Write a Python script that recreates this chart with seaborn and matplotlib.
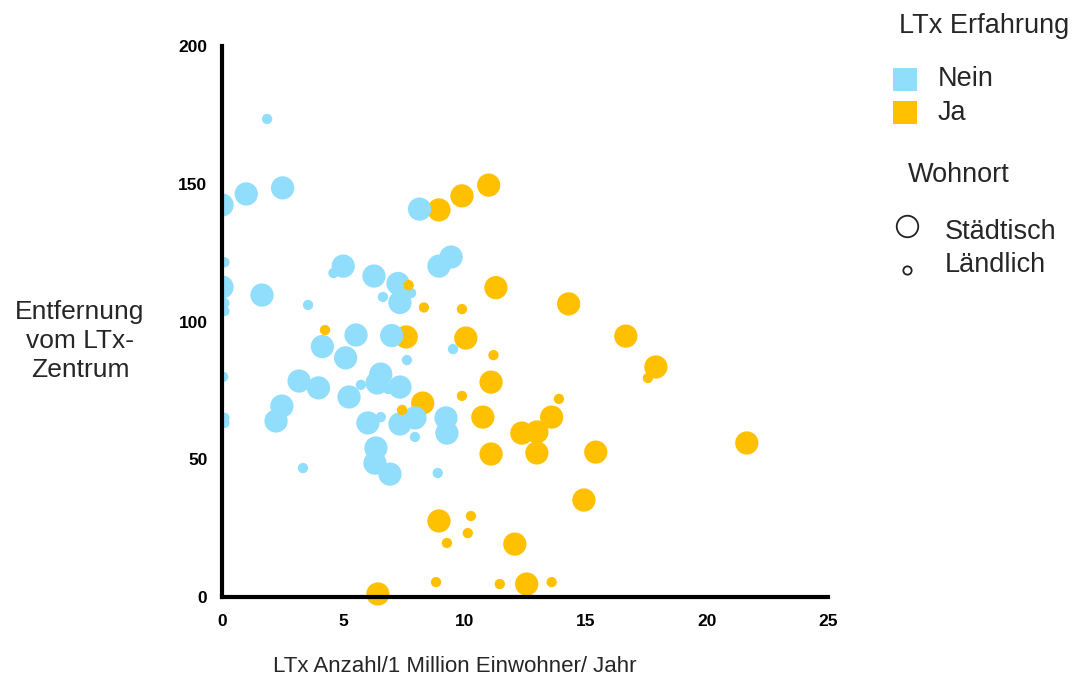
import matplotlib
matplotlib.use("Agg")
import matplotlib.pyplot as plt
import pandas as pd
import seaborn as sns
from matplotlib.patches import Rectangle
from matplotlib.lines import Line2D

# ---------------- data ----------------
# LTx experience "Ja", urban residence (Städtisch)
ja_stadt_x = [8.95, 9.9, 11.0, 11.3, 14.3, 7.6, 10.06, 16.66, 17.9, 11.1, 8.28, 10.76,
              13.6, 12.37, 12.99, 11.1, 12.99, 15.42, 21.65, 14.93, 8.95, 12.08, 12.57, 6.43]
ja_stadt_y = [140.5, 145.6, 149.5, 112.3, 106.4, 94.4, 94.0, 94.7, 83.5, 78.0, 70.4, 65.3,
              65.3, 59.5, 59.9, 51.9, 52.3, 52.6, 55.9, 35.2, 27.6, 19.2, 4.7, 1.1]

# LTx experience "Nein", urban residence
nein_stadt_x = [0.0, 1.0, 2.5, 8.15, 5.0, 8.95, 9.45, 0.0, 1.65, 6.27, 7.26, 7.34, 5.53,
                7.0, 4.14, 5.1, 6.55, 6.4, 7.34, 3.18, 3.98, 5.24, 2.47, 2.23, 6.02, 7.34,
                7.96, 9.24, 9.28, 6.35, 6.31, 6.93]
nein_stadt_y = [142.3, 146.3, 148.5, 140.8, 120.1, 120.1, 123.4, 112.5, 109.6, 116.5, 113.8,
                106.9, 95.1, 94.9, 90.9, 86.8, 80.9, 77.7, 76.2, 78.4, 75.9, 72.6, 69.3, 63.9,
                63.2, 62.8, 65.0, 65.0, 59.5, 54.1, 48.6, 44.6]

# LTx experience "Nein", rural residence (Ländlich)
nein_land_x = [0.1, 1.86, 0.1, 0.1, 4.6, 3.55, 6.64, 7.8, 0.05, 0.1, 0.1, 7.63, 9.53,
               5.73, 6.85, 6.55, 7.96, 3.34, 8.9]
nein_land_y = [121.5, 173.5, 106.7, 103.8, 117.6, 106.0, 108.9, 110.3, 79.9, 65.0, 63.2,
               86.0, 90.0, 77.0, 75.5, 65.3, 58.1, 46.8, 45.0]

# LTx experience "Ja", rural residence
ja_land_x = [7.7, 8.33, 9.9, 4.25, 11.2, 9.9, 7.43, 13.9, 17.57, 10.27, 10.14, 9.28,
             8.83, 11.46, 13.6]
ja_land_y = [113.2, 105.1, 104.5, 96.9, 87.8, 73.0, 67.9, 71.9, 79.5, 29.4, 23.2, 19.6,
             5.4, 4.7, 5.4]

x_ticks = [0, 5, 10, 15, 20, 25]
y_ticks = [0, 50, 100, 150, 200]
erfahrung_labels = ["Nein", "Ja"]
wohnort_labels = ["Städtisch", "Ländlich"]

BLUE = "#91DDFC"
ORANGE = "#FFC000"
TEXT = "#262626"

# ---------------- frame ----------------
frames = []
for xs, ys, erf, wo in [(ja_stadt_x, ja_stadt_y, "Ja", "Städtisch"),
                        (nein_stadt_x, nein_stadt_y, "Nein", "Städtisch"),
                        (nein_land_x, nein_land_y, "Nein", "Ländlich"),
                        (ja_land_x, ja_land_y, "Ja", "Ländlich")]:
    frames.append(pd.DataFrame({"x": xs, "y": ys, "LTx": erf, "Wohnort": wo}))
df = pd.concat(frames, ignore_index=True)

sns.set_style("white")
plt.rcParams["font.family"] = ["Liberation Sans", "DejaVu Sans"]

W, H = 1076, 682
fig = plt.figure(figsize=(W / 100, H / 100), dpi=100)
ax = fig.add_axes([222 / W, 85 / H, 606 / W, 551 / H])

sns.scatterplot(data=df, x="x", y="y", hue="LTx", size="Wohnort",
                sizes={"Städtisch": 280, "Ländlich": 55},
                palette={"Nein": BLUE, "Ja": ORANGE},
                linewidth=0, legend=False, ax=ax, zorder=2)

# clip only at the left (y axis), let markers spill below the x axis like the reference
clip = Rectangle((0, -0.05), 1.05, 1.1, transform=ax.transAxes, facecolor="none",
                 edgecolor="none")
for coll in ax.collections:
    coll.set_clip_path(clip)

ax.set_xlim(0, 25)
ax.set_ylim(0, 200)
ax.set_xticks(x_ticks)
ax.set_yticks(y_ticks)
for s in ["top", "right"]:
    ax.spines[s].set_visible(False)
for s in ["left", "bottom"]:
    ax.spines[s].set_linewidth(3)
    ax.spines[s].set_color("black")
    ax.spines[s].set_zorder(3)
ax.tick_params(axis="both", direction="out", length=8.5, width=3, color="black",
               labelsize=12.5, labelcolor="black")
ax.tick_params(axis="y", pad=2)
ax.tick_params(axis="x", pad=4)
for lab in ax.get_xticklabels() + ax.get_yticklabels():
    lab.set_fontweight("bold")

ax.set_xlabel("LTx Anzahl/1 Million Einwohner/ Jahr", fontsize=16, color=TEXT)
ax.xaxis.set_label_coords((455 - 222) / 606, (597 - 667) / 551)
ax.xaxis.label.set_va("center")

ax.set_ylabel("Entfernung\nvom LTx-\nZentrum", fontsize=19, color=TEXT, rotation=0,
              linespacing=1.25, ha="center", va="center", multialignment="center")
ax.yaxis.set_label_coords((80 - 222) / 606, (597 - 341) / 551)


# ---------------- legend (drawn in figure pixel coordinates) ----------------
def fx(px):
    return px / W


def fy(py):
    return 1 - py / H


fs_leg = 19.5
fig.text(fx(899), fy(26), "LTx Erfahrung", fontsize=fs_leg, color=TEXT, ha="left", va="center")
for lab, col, cy in [(erfahrung_labels[0], BLUE, 79.5), (erfahrung_labels[1], ORANGE, 112.5)]:
    fig.add_artist(Rectangle((fx(893), fy(cy + 11.5)), 24 / W, 23 / H,
                             transform=fig.transFigure, facecolor=col, edgecolor="none"))
    fig.text(fx(938), fy(cy), lab, fontsize=fs_leg, color=TEXT, ha="left", va="center")

fig.text(fx(908), fy(175), "Wohnort", fontsize=fs_leg, color=TEXT, ha="left", va="center")
for lab, ms, cy, ty in [(wohnort_labels[0], 15.5, 226, 232), (wohnort_labels[1], 6.0, 269.5, 265)]:
    fig.add_artist(Line2D([fx(907)], [fy(cy)], transform=fig.transFigure, marker="o",
                          markersize=ms, markerfacecolor="white", markeredgecolor="#222222",
                          markeredgewidth=1.3, linestyle="none"))
    fig.text(fx(945), fy(ty), lab, fontsize=fs_leg, color=TEXT, ha="left", va="center")

fig.savefig("out.png", dpi=100)
